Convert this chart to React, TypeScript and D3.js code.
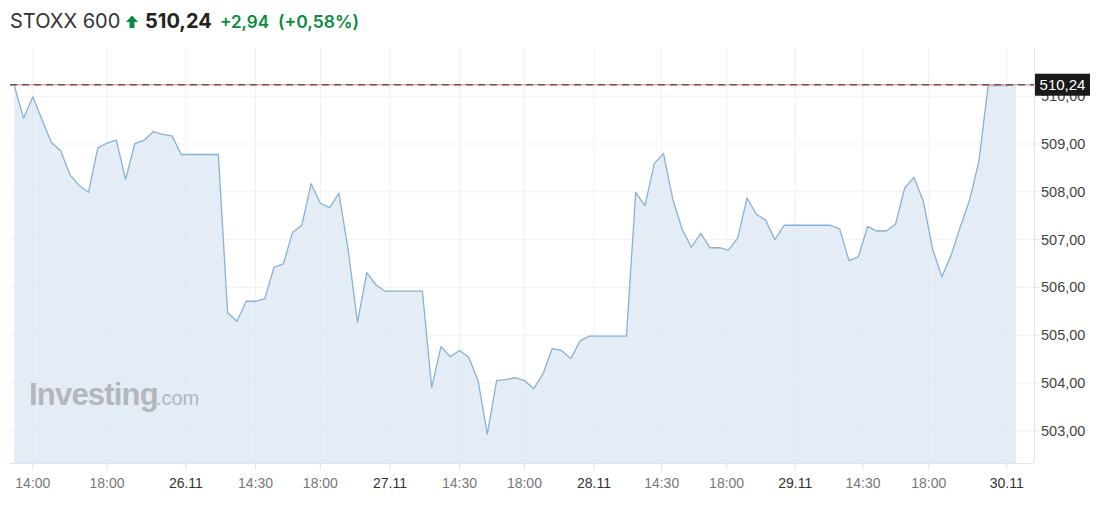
import React from "react";
import * as d3 from "d3";

const values: number[] = [
  510.22, 509.54, 509.99, 509.5, 509.03, 508.86, 508.36, 508.13, 507.99, 508.92,
  509.02, 509.08, 508.26, 509.01, 509.08, 509.26, 509.2, 509.17, 508.78, 508.78,
  508.78, 508.78, 508.78, 505.47, 505.29, 505.71, 505.71, 505.76, 506.42, 506.49,
  507.15, 507.3, 508.17, 507.76, 507.67, 507.97, 506.78, 505.27, 506.31, 506.05,
  505.92, 505.92, 505.92, 505.92, 505.92, 503.91, 504.76, 504.55, 504.68, 504.54,
  504.05, 502.93, 504.05, 504.07, 504.11, 504.05, 503.88, 504.19, 504.72, 504.68,
  504.51, 504.88, 504.98, 504.98, 504.98, 504.98, 504.98, 507.99, 507.71, 508.59,
  508.8, 507.84, 507.22, 506.84, 507.13, 506.83, 506.83, 506.78, 507.03, 507.87,
  507.53, 507.41, 507.0, 507.3, 507.3, 507.3, 507.3, 507.3, 507.3, 507.22,
  506.56, 506.64, 507.27, 507.18, 507.18, 507.32, 508.08, 508.3, 507.81, 506.81,
  506.22, 506.67, 507.27, 507.83, 508.64, 510.22, 510.22, 510.22, 510.24,
];

const xTickPos: number[] = [2, 10, 18.5, 26, 33, 40.5, 48, 55, 62.5, 69.8, 76.8, 84.2, 91.5, 98.6, 107];
const xTickLabels: string[] = ["14:00", "18:00", "26.11", "14:30", "18:00", "27.11", "14:30", "18:00", "28.11", "14:30", "18:00", "29.11", "14:30", "18:00", "30.11"];
const xTickIsDate: boolean[] = [false, false, true, false, false, true, false, false, true, false, false, true, false, false, true];

const yTicks: number[] = [503, 504, 505, 506, 507, 508, 509, 510];

const lastPrice = 510.24;
const titleName = "STOXX 600";
const titlePrice = "510,24";
const titleChange = "+2,94";
const titlePct = "(+0,58%)";

const fmt = (v: number) => v.toFixed(2).replace(".", ",");

export default function App() {
  const W = 1107;
  const H = 509;
  const plotLeft = 10;
  const plotRight = 1034;
  const plotBottom = 463;
  const plotTop = 48;

  const x = d3.scaleLinear().domain([0, 108]).range([14.3, 1016]);
  const y = d3.scaleLinear().domain([503, 509]).range([430.8, 144]);

  const area = d3
    .area<number>()
    .x((_, i) => x(i))
    .y0(plotBottom)
    .y1((d) => y(d));
  const line = d3
    .line<number>()
    .x((_, i) => x(i))
    .y((d) => y(d));

  const green = "#0b8a3e";
  const yLast = y(lastPrice);
  const tf = "Inter, 'Open Sans', sans-serif";

  return (
    <svg width={W} height={H} style={{ display: "block", position: "absolute", left: 0, top: 0 }}>
      <rect x={0} y={0} width={W} height={H} fill="#fff" />
      {/* title */}
      <text x={10} y={28} fontFamily={tf} fontSize={20} fill="#333">
        {titleName}
      </text>
      <path d="M132,15.5 L138,22 L134.5,22 L134.5,28 L129.5,28 L129.5,22 L126,22 Z" fill={green} />
      <text x={145} y={28} fontFamily={tf} fontSize={20} fontWeight={700} fill="#222">
        {titlePrice}
      </text>
      <text x={220} y={28} fontFamily={tf} fontSize={17} fontWeight={600} fill={green}>
        {titleChange}
      </text>
      <text x={278} y={28} fontFamily={tf} fontSize={17.5} fontWeight={600} fill={green}>
        {titlePct}
      </text>

      {/* grid */}
      {yTicks.map((t) => (
        <line key={"gy" + t} x1={plotLeft} x2={plotRight} y1={y(t)} y2={y(t)} stroke="#f0f1f3" strokeWidth={1} />
      ))}
      {xTickPos.map((p, i) => (
        <line key={"gx" + i} x1={x(p)} x2={x(p)} y1={plotTop} y2={plotBottom} stroke="#f0f1f3" strokeWidth={1} />
      ))}

      {/* area + line */}
      <path d={area(values) || ""} fill="#dde8f3" fillOpacity={0.8} />
      <path d={line(values) || ""} fill="none" stroke="#86b2d6" strokeWidth={1.3} strokeLinejoin="round" />

      {/* watermark */}
      <text x={29} y={405} fontFamily="'Liberation Sans', Arial, sans-serif" fontSize={31} fontWeight={700} fill="#b3b7bc" letterSpacing={-0.8}>
        Investing
        <tspan fontSize={20} fontWeight={400} dx={-2} letterSpacing={0}>.com</tspan>
      </text>

      {/* axes lines */}
      <line x1={plotLeft} x2={plotRight} y1={plotBottom + 0.5} y2={plotBottom + 0.5} stroke="#e3e3e3" />
      <line x1={plotRight + 0.5} x2={plotRight + 0.5} y1={plotTop} y2={plotBottom} stroke="#e3e3e3" />

      {/* bottom ticks */}
      {xTickPos.map((p, i) => (
        <g key={"xt" + i}>
          <line x1={x(p)} x2={x(p)} y1={plotBottom} y2={plotBottom + 7} stroke="#e3e3e3" />
          <text
            x={x(p)}
            y={488}
            textAnchor="middle"
            fontFamily="'Liberation Sans', Arial, sans-serif"
            fontSize={14}
            fill={xTickIsDate[i] ? "#333" : "#777"}
          >
            {xTickLabels[i]}
          </text>
        </g>
      ))}

      {/* right ticks */}
      {yTicks.map((t) => (
        <g key={"yt" + t}>
          <line x1={plotRight} x2={plotRight + 5} y1={y(t)} y2={y(t)} stroke="#e3e3e3" />
          <text
            x={1041}
            y={y(t) + 5}
            fontFamily="'Liberation Sans', Arial, sans-serif"
            fontSize={14.5}
            fill="#444"
          >
            {fmt(t)}
          </text>
        </g>
      ))}

      {/* last price line */}
      <line x1={10} x2={plotRight} y1={yLast} y2={yLast} stroke="#f2a5a5" strokeWidth={1.5} />
      <line x1={10} x2={plotRight} y1={yLast} y2={yLast} stroke="#6b5555" strokeWidth={1.3} strokeDasharray="7,5" />
      <rect x={1035} y={yLast - 11} width={55} height={22} fill="#1a1a1a" />
      <text
        x={1062.5}
        y={yLast + 5.5}
        textAnchor="middle"
        fontFamily="'Liberation Sans', Arial, sans-serif"
        fontSize={15}
        fill="#fff"
      >
        {fmt(lastPrice)}
      </text>
    </svg>
  );
}
